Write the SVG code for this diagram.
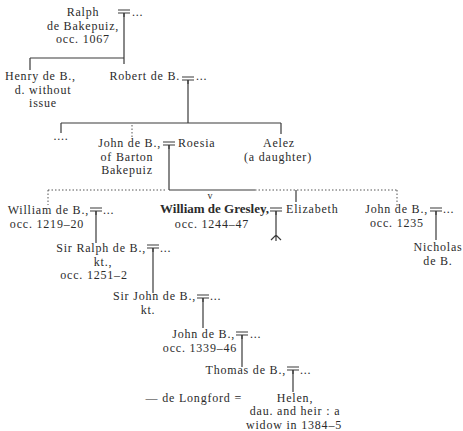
<svg xmlns="http://www.w3.org/2000/svg" xmlns:xlink="http://www.w3.org/1999/xlink" width="463" height="431" viewBox="0 0 463 431">
  <style>
    text { font-family: "Liberation Serif", "Times New Roman", serif; font-size: 12px; letter-spacing: 0.8px; fill: #2b2b2b; }
    .c { text-anchor: middle; }
    .e { text-anchor: end; }
    .b { font-weight: bold; font-size: 13px; letter-spacing: 0; }
    .sm { font-size: 10px; letter-spacing: 0; }
    .ln { stroke: #3a3a3a; stroke-width: 1.2; fill: none; }
    .dt { stroke: #555; stroke-width: 1; fill: none; stroke-dasharray: 1.5 2; }
  </style>
  <defs>
    <!-- marriage sign: double bar with a stub below -->
    <g id="wed" class="ln">
      <path d="M-6,0 H6 M-6,3 H6 M0,3 V7"/>
    </g>
  </defs>
  <rect width="463" height="431" fill="#ffffff"/>

  <g id="connectors">
    <!-- Ralph -->
    <use xlink:href="#wed" x="124" y="10"/>
    <path class="ln" d="M124,13 V64 M30,58 H124 M30,58 V70"/>
    <!-- Robert -->
    <use xlink:href="#wed" x="188" y="77"/>
    <path class="ln" d="M188,80 V123 M61,123 H281 M61,123 V133 M281,123 V134"/>
    <path class="dt" d="M132,125 V137"/>
    <!-- John / Roesia -->
    <use xlink:href="#wed" x="169" y="142"/>
    <path class="ln" d="M169,145 V190 M169,190 H255 M296,190 V202"/>
    <path class="dt" d="M48,190 H167 M255,190 H397 M48,190 V205 M397,190 V207"/>
    <!-- William de B. -->
    <use xlink:href="#wed" x="96" y="208"/>
    <path class="ln" d="M96,211 V243"/>
    <!-- Gresley / Elizabeth -->
    <use xlink:href="#wed" x="276" y="208"/>
    <path class="ln" d="M276,211 V241 M271,240 L276,235 L281,240"/>
    <!-- John de B. (occ. 1235) -->
    <use xlink:href="#wed" x="436" y="208"/>
    <path class="ln" d="M436,211 V240"/>
    <!-- Sir Ralph -->
    <use xlink:href="#wed" x="153" y="245"/>
    <path class="ln" d="M153,248 V293"/>
    <!-- Sir John -->
    <use xlink:href="#wed" x="203" y="295"/>
    <path class="ln" d="M203,298 V328"/>
    <!-- John de B. (occ. 1339-46) -->
    <use xlink:href="#wed" x="242" y="332"/>
    <path class="ln" d="M242,335 V367"/>
    <!-- Thomas -->
    <use xlink:href="#wed" x="293" y="367"/>
    <path class="ln" d="M293,370 V392" stroke-width="0.8"/>
  </g>

  <g id="ralph">
    <text class="c" x="83" y="16">Ralph</text>
    <text class="c" x="83" y="29.5">de Bakepuiz,</text>
    <text class="c" x="83" y="43">occ. 1067</text>
    <text x="132" y="16">...</text>
  </g>

  <g id="henry">
    <text x="5" y="80">Henry de B.,</text>
    <text class="c" x="43" y="93.5">d. without</text>
    <text class="c" x="43" y="107">issue</text>
  </g>

  <g id="robert">
    <text class="e" x="180" y="80">Robert de B.</text>
    <text x="196" y="80">...</text>
  </g>

  <g id="unnamed">
    <text class="c" x="61" y="140">....</text>
  </g>

  <g id="john-barton">
    <text class="e" x="161" y="147">John de B.,</text>
    <text class="c" x="127" y="160.5">of Barton</text>
    <text class="c" x="127" y="174">Bakepuiz</text>
  </g>

  <g id="roesia">
    <text x="178" y="147">Roesia</text>
  </g>

  <g id="aelez">
    <text class="c" x="279" y="147">Aelez</text>
    <text class="c" x="278" y="160.5">(a daughter)</text>
  </g>

  <g id="william-b">
    <text class="e" x="89" y="214">William de B.,</text>
    <text class="c" x="47" y="227.5">occ. 1219–20</text>
    <text x="103" y="214">...</text>
  </g>

  <g id="gresley">
    <text class="sm c" x="210" y="198.5">v</text>
    <text class="b e" x="269" y="213">William de Gresley,</text>
    <text class="c" x="212" y="227.5">occ. 1244–47</text>
  </g>

  <g id="elizabeth">
    <text x="286" y="213">Elizabeth</text>
  </g>

  <g id="john-1235">
    <text class="e" x="428" y="213">John de B.,</text>
    <text class="c" x="397" y="227">occ. 1235</text>
    <text x="443" y="213">...</text>
  </g>

  <g id="nicholas">
    <text class="c" x="438" y="251">Nicholas</text>
    <text class="c" x="438" y="264.5">de B.</text>
  </g>

  <g id="sir-ralph">
    <text class="e" x="146" y="252">Sir Ralph de B.,</text>
    <text class="c" x="103" y="265.5">kt.,</text>
    <text class="c" x="94" y="279">occ. 1251–2</text>
    <text x="160" y="252">...</text>
  </g>

  <g id="sir-john">
    <text class="e" x="196" y="300">Sir John de B.,</text>
    <text class="c" x="148" y="313.5">kt.</text>
    <text x="210" y="300">...</text>
  </g>

  <g id="john-1339">
    <text class="e" x="235" y="338">John de B.,</text>
    <text class="c" x="200" y="351.5">occ. 1339–46</text>
    <text x="250" y="338">...</text>
  </g>

  <g id="thomas">
    <text class="e" x="286" y="374">Thomas de B.,</text>
    <text x="300" y="374">...</text>
  </g>

  <g id="longford">
    <text class="e" x="242" y="401.5">— de Longford =</text>
  </g>

  <g id="helen">
    <text class="c" x="295" y="401.5">Helen,</text>
    <text class="c" x="295" y="415">dau. and heir : a</text>
    <text class="c" x="294" y="428.5">widow in 1384–5</text>
  </g>
</svg>
